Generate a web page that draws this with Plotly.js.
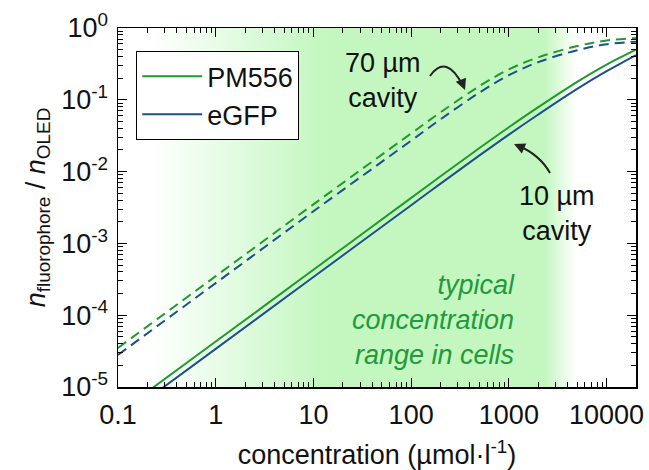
<!DOCTYPE html>
<html>
<head>
<meta charset="utf-8">
<script src="https://cdn.plot.ly/plotly-3.0.1.min.js"></script>
<style>html,body{margin:0;padding:0;background:#fff;}#chart{width:649px;height:470px;}</style>
</head>
<body>
<div id="chart"></div>
<script>
// ---- data ----
const concentration = [0.1, 1, 10, 100, 200, 500, 1000, 2000, 5000, 10000, 20000];
const pm556_10um = [4.3e-6, 4.3e-5, 4.3e-4, 4.3e-3, 8.6e-3, 0.0213, 0.0415, 0.079, 0.178, 0.31, 0.50];
const egfp_10um  = [3.4e-6, 3.4e-5, 3.4e-4, 3.4e-3, 6.8e-3, 0.0168, 0.0328, 0.0625, 0.142, 0.25, 0.42];
const pm556_70um = [3.5e-5, 3.5e-4, 3.5e-3, 0.034, 0.067, 0.155, 0.265, 0.39, 0.56, 0.67, 0.725];
const egfp_70um  = [2.8e-5, 2.8e-4, 2.8e-3, 0.027, 0.0535, 0.126, 0.22, 0.335, 0.49, 0.595, 0.645];
const xTickVals = [0.1, 1, 10, 100, 1000, 10000];
const xTickText = ['0.1', '1', '10', '100', '1000', '10000'];
const yTickVals = [1e-5, 1e-4, 1e-3, 1e-2, 1e-1, 1];
const yTickText = ['10<sup>-5</sup>', '10<sup>-4</sup>', '10<sup>-3</sup>', '10<sup>-2</sup>', '10<sup>-1</sup>', '10<sup>0</sup>'];
const xRange = [0.1, 20000];
const yRange = [1e-5, 1];

// ---- layout helpers ----
const L = 118, T = 28, W = 518, H = 359;
const X = px => (px - L) / W;
const Y = py => 1 - (py - T) / H;
const FONT = 'Liberation Sans, Arial, Helvetica, sans-serif';
const FS = 27;
const GREEN = '#1f9a2e';
const BLUE = '#1d4f8a';
const BAND = '#c3f7bf';

function minorTicks(lo, hi) {
  const out = [];
  for (let e = Math.floor(Math.log10(lo)); e <= Math.ceil(Math.log10(hi)); e++) {
    for (let m = 2; m <= 9; m++) {
      const v = m * Math.pow(10, e);
      if (v > lo && v < hi) out.push(v);
    }
  }
  return out;
}

const traces = [
  {
    x: [xRange[0], xRange[1], xRange[1], xRange[0], xRange[0]],
    y: [yRange[0], yRange[0], yRange[1], yRange[1], yRange[0]],
    mode: 'lines', fill: 'toself', line: {width: 0},
    fillgradient: {
      type: 'horizontal',
      colorscale: [[0, '#ffffff'], [0.062, '#ffffff'], [0.40, BAND], [0.824, BAND], [0.884, '#ffffff'], [1, '#ffffff']]
    },
    hoverinfo: 'skip', showlegend: false
  },
  {x: concentration, y: pm556_70um, mode: 'lines', line: {color: GREEN, width: 2, dash: '10px,6px', shape: 'spline', smoothing: 1}, showlegend: false, name: 'PM556 70 µm'},
  {x: concentration, y: egfp_70um, mode: 'lines', line: {color: BLUE, width: 2, dash: '10px,6px', shape: 'spline', smoothing: 1}, showlegend: false, name: 'eGFP 70 µm'},
  {x: concentration, y: pm556_10um, mode: 'lines', line: {color: GREEN, width: 2, shape: 'spline', smoothing: 1}, name: 'PM556'},
  {x: concentration, y: egfp_10um, mode: 'lines', line: {color: BLUE, width: 2, shape: 'spline', smoothing: 1}, name: 'eGFP'}
];

const axisCommon = {
  type: 'log', showgrid: false, zeroline: false,
  showline: true, linecolor: '#000', linewidth: 1.5, mirror: 'ticks',
  ticks: 'inside', ticklen: 9, tickwidth: 1.2, tickcolor: '#000',
  tickmode: 'array', tickfont: {family: FONT, size: FS, color: '#111'}
};

const layout = {
  width: 649, height: 470,
  margin: {l: L, r: 649 - L - W, t: T, b: 470 - T - H},
  paper_bgcolor: '#fff', plot_bgcolor: '#fff',
  font: {family: FONT, size: FS, color: '#111'},
  xaxis: Object.assign({}, axisCommon, {
    range: [Math.log10(xRange[0]), Math.log10(xRange[1])],
    tickvals: xTickVals, ticktext: xTickText, ticklabelstandoff: 3,
    minor: {tickmode: 'array', tickvals: minorTicks(xRange[0], xRange[1]), ticks: 'inside', ticklen: 5, tickwidth: 1, tickcolor: '#000'},
    title: {text: 'concentration (µmol·l<sup>-1</sup>)', font: {family: FONT, size: FS, color: '#111'}, standoff: 18}
  }),
  yaxis: Object.assign({}, axisCommon, {
    range: [Math.log10(yRange[0]), Math.log10(yRange[1])],
    tickvals: yTickVals, ticktext: yTickText, ticklabelstandoff: 3,
    minor: {tickmode: 'array', tickvals: minorTicks(yRange[0], yRange[1]), ticks: 'inside', ticklen: 5, tickwidth: 1, tickcolor: '#000'},
    title: {text: '<i>n</i><sub>fluorophore</sub> / <i>n</i><sub>OLED</sub>', font: {family: FONT, size: FS, color: '#111'}, standoff: 8}
  }),
  legend: {
    x: X(136), y: Y(51), xanchor: 'left', yanchor: 'top',
    bgcolor: '#fff', bordercolor: '#000', borderwidth: 1.2,
    font: {family: FONT, size: FS, color: '#111'},
    itemwidth: 60, tracegroupgap: 0
  },
  shapes: [
    {type: 'path', xref: 'paper', yref: 'paper',
     path: `M ${X(430)},${Y(76)} Q ${X(446.5)},${Y(53)} ${X(463)},${Y(86)}`,
     line: {color: '#222', width: 2}},
    {type: 'path', xref: 'paper', yref: 'paper',
     path: `M ${X(550)},${Y(173)} Q ${X(540)},${Y(155)} ${X(518)},${Y(145.5)}`,
     line: {color: '#222', width: 2}}
  ],
  annotations: [
    {xref: 'paper', yref: 'paper', x: X(465), y: Y(90), text: '', showarrow: true,
     ax: -4, ay: -10, arrowhead: 2, arrowsize: 1.1, arrowwidth: 2, arrowcolor: '#222', standoff: 0},
    {xref: 'paper', yref: 'paper', x: X(514), y: Y(144), text: '', showarrow: true,
     ax: 9, ay: 4, arrowhead: 2, arrowsize: 1.1, arrowwidth: 2, arrowcolor: '#222', standoff: 0},
    {xref: 'paper', yref: 'paper', x: X(383), y: Y(80), text: '70 µm<br>cavity', showarrow: false,
     xanchor: 'center', yanchor: 'middle', align: 'center', font: {family: FONT, size: FS, color: '#111'}},
    {xref: 'paper', yref: 'paper', x: X(557), y: Y(214), text: '10 µm<br>cavity', showarrow: false,
     xanchor: 'center', yanchor: 'middle', align: 'center', font: {family: FONT, size: FS, color: '#111'}},
    {xref: 'paper', yref: 'paper', x: X(517), y: Y(320), text: '<i>typical<br>concentration<br>range in cells</i>', showarrow: false,
     xanchor: 'right', yanchor: 'middle', align: 'right', font: {family: FONT, size: FS, color: '#1f9a3c'}}
  ]
};

Plotly.newPlot('chart', traces, layout, {staticPlot: true, displayModeBar: false});
</script>
</body>
</html>
